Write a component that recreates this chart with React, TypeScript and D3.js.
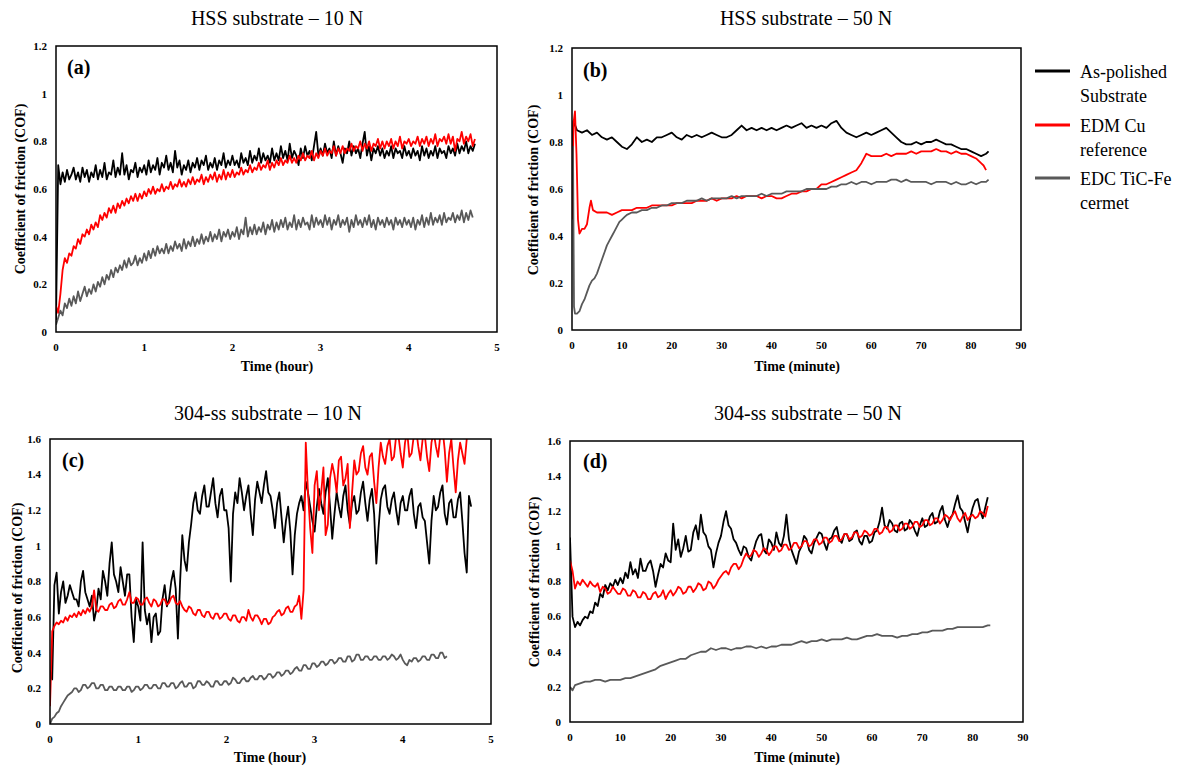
import React from 'react';
import * as d3 from 'd3';

const W = 1187;
const H = 766;
const FONT = '"Liberation Serif", "Times New Roman", "DejaVu Serif", serif';

const seriesNames = ['As-polished Substrate', 'EDM Cu reference', 'EDC TiC-Fe cermet'];
const seriesColors = ['#000000', '#ff0000', '#595959'];

const yTicksLow = [0, 0.2, 0.4, 0.6, 0.8, 1, 1.2];
const yTicksHigh = [0, 0.2, 0.4, 0.6, 0.8, 1, 1.2, 1.4, 1.6];
const xTicksHour = [0, 1, 2, 3, 4, 5];
const xTicksMinute = [0, 10, 20, 30, 40, 50, 60, 70, 80, 90];

// (a) HSS substrate - 10 N, one value every 0.025 h
const hss10Step = 0.025;
const hss10Polished = [
  0.05, 0.70, 0.62, 0.67, 0.63, 0.68, 0.64, 0.66, 0.69, 0.64,
  0.67, 0.63, 0.69, 0.65, 0.68, 0.63, 0.67, 0.65, 0.70, 0.64,
  0.68, 0.65, 0.71, 0.64, 0.67, 0.66, 0.72, 0.65, 0.69, 0.66,
  0.75, 0.66, 0.70, 0.64, 0.68, 0.67, 0.71, 0.65, 0.69, 0.67,
  0.70, 0.66, 0.72, 0.67, 0.70, 0.68, 0.73, 0.66, 0.71, 0.69,
  0.74, 0.68, 0.71, 0.67, 0.76, 0.69, 0.72, 0.66, 0.70, 0.68,
  0.72, 0.67, 0.71, 0.69, 0.73, 0.68, 0.72, 0.70, 0.74, 0.68,
  0.71, 0.69, 0.73, 0.68, 0.72, 0.70, 0.75, 0.69, 0.72, 0.70,
  0.74, 0.70, 0.72, 0.69, 0.75, 0.71, 0.73, 0.70, 0.76, 0.71,
  0.74, 0.72, 0.77, 0.71, 0.75, 0.72, 0.74, 0.71, 0.77, 0.72,
  0.75, 0.72, 0.78, 0.73, 0.76, 0.72, 0.79, 0.73, 0.76, 0.74,
  0.70, 0.77, 0.73, 0.78, 0.74, 0.76, 0.72, 0.78, 0.84, 0.74,
  0.77, 0.74, 0.79, 0.75, 0.77, 0.73, 0.80, 0.74, 0.78, 0.75,
  0.71, 0.77, 0.75, 0.80, 0.74, 0.78, 0.75, 0.77, 0.73, 0.79,
  0.84, 0.74, 0.78, 0.72, 0.77, 0.75, 0.78, 0.74, 0.77, 0.73,
  0.76, 0.74, 0.78, 0.73, 0.77, 0.75, 0.76, 0.73, 0.78, 0.74,
  0.76, 0.73, 0.77, 0.74, 0.76, 0.72, 0.78, 0.74, 0.77, 0.73,
  0.76, 0.74, 0.78, 0.73, 0.77, 0.75, 0.76, 0.73, 0.78, 0.75,
  0.77, 0.74, 0.79, 0.75, 0.78, 0.76, 0.80, 0.75, 0.78, 0.76,
  0.79,
];
const hss10EdmCu = [
  0.11, 0.08, 0.16, 0.26, 0.31, 0.29, 0.33, 0.32, 0.36, 0.35,
  0.39, 0.37, 0.41, 0.40, 0.43, 0.41, 0.45, 0.43, 0.46, 0.44,
  0.49, 0.47, 0.50, 0.48, 0.52, 0.50, 0.53, 0.50, 0.54, 0.52,
  0.55, 0.53, 0.56, 0.54, 0.57, 0.55, 0.58, 0.55, 0.58, 0.56,
  0.59, 0.57, 0.60, 0.58, 0.61, 0.58, 0.60, 0.59, 0.62, 0.59,
  0.61, 0.60, 0.63, 0.60, 0.62, 0.61, 0.64, 0.61, 0.63, 0.61,
  0.64, 0.62, 0.65, 0.62, 0.64, 0.63, 0.66, 0.62, 0.65, 0.63,
  0.66, 0.64, 0.67, 0.63, 0.66, 0.64, 0.68, 0.64, 0.67, 0.65,
  0.68, 0.65, 0.67, 0.66, 0.69, 0.66, 0.68, 0.67, 0.70, 0.67,
  0.69, 0.68, 0.71, 0.68, 0.70, 0.69, 0.72, 0.68, 0.71, 0.69,
  0.72, 0.70, 0.73, 0.70, 0.72, 0.71, 0.74, 0.71, 0.73, 0.71,
  0.74, 0.72, 0.75, 0.72, 0.74, 0.73, 0.76, 0.72, 0.75, 0.73,
  0.76, 0.74, 0.77, 0.74, 0.76, 0.75, 0.78, 0.74, 0.77, 0.75,
  0.78, 0.75, 0.77, 0.76, 0.79, 0.76, 0.78, 0.77, 0.80, 0.76,
  0.79, 0.77, 0.80, 0.76, 0.79, 0.78, 0.81, 0.77, 0.80, 0.77,
  0.80, 0.78, 0.81, 0.77, 0.80, 0.78, 0.82, 0.77, 0.80, 0.79,
  0.81, 0.78, 0.80, 0.79, 0.82, 0.78, 0.81, 0.79, 0.82, 0.78,
  0.81, 0.79, 0.83, 0.78, 0.81, 0.80, 0.82, 0.79, 0.83, 0.79,
  0.82, 0.76, 0.81, 0.80, 0.84, 0.79, 0.82, 0.80, 0.83, 0.78,
  0.81,
];
const hss10TicFe = [
  0.03, 0.06, 0.09, 0.07, 0.12, 0.10, 0.14, 0.11, 0.15, 0.12,
  0.17, 0.13, 0.16, 0.19, 0.15, 0.18, 0.16, 0.20, 0.17, 0.21,
  0.19, 0.23, 0.20, 0.24, 0.22, 0.26, 0.23, 0.27, 0.25, 0.28,
  0.26, 0.30, 0.27, 0.31, 0.28, 0.29, 0.32, 0.28, 0.31, 0.29,
  0.33, 0.30, 0.34, 0.31, 0.35, 0.32, 0.36, 0.33, 0.35, 0.33,
  0.37, 0.33, 0.36, 0.34, 0.38, 0.35, 0.37, 0.34, 0.39, 0.35,
  0.38, 0.36, 0.40, 0.36, 0.39, 0.37, 0.41, 0.37, 0.40, 0.38,
  0.42, 0.38, 0.41, 0.39, 0.43, 0.38, 0.42, 0.40, 0.43, 0.39,
  0.42, 0.40, 0.44, 0.39, 0.43, 0.41, 0.48, 0.40, 0.44, 0.41,
  0.45, 0.41, 0.44, 0.42, 0.46, 0.41, 0.45, 0.43, 0.47, 0.42,
  0.46, 0.43, 0.47, 0.44, 0.48, 0.43, 0.46, 0.44, 0.49, 0.43,
  0.47, 0.44, 0.48, 0.45, 0.46, 0.43, 0.49, 0.44, 0.48, 0.45,
  0.47, 0.44, 0.49, 0.45, 0.48, 0.43, 0.47, 0.45, 0.49, 0.44,
  0.47, 0.45, 0.48, 0.42, 0.47, 0.44, 0.49, 0.45, 0.47, 0.44,
  0.48, 0.45, 0.49, 0.44, 0.47, 0.43, 0.48, 0.45, 0.47, 0.44,
  0.48, 0.45, 0.47, 0.43, 0.48, 0.45, 0.47, 0.44, 0.48, 0.45,
  0.47, 0.44, 0.48, 0.43, 0.47, 0.45, 0.49, 0.44, 0.48, 0.45,
  0.50, 0.45, 0.48, 0.46, 0.49, 0.45, 0.50, 0.46, 0.48, 0.47,
  0.50, 0.46, 0.49, 0.47, 0.51, 0.46, 0.50, 0.47, 0.51, 0.48,
];

// (b) HSS substrate - 50 N, [minute, COF]
const hss50Polished = [
  [0, 0.74], [0.3, 0.89], [1, 0.85], [2, 0.84], [3, 0.85], [4, 0.83], [5, 0.84], [6, 0.82], [7, 0.81], [8, 0.82],
  [9, 0.8], [10, 0.78], [11, 0.77], [12, 0.79], [13, 0.82], [14, 0.8], [15, 0.81], [16, 0.8], [17, 0.82], [18, 0.82],
  [19, 0.83], [20, 0.84], [21, 0.82], [22, 0.81], [23, 0.83], [24, 0.82], [25, 0.83], [26, 0.82], [27, 0.83], [28, 0.84],
  [29, 0.83], [30, 0.82], [31, 0.82], [32, 0.83], [33, 0.85], [34, 0.87], [35, 0.85], [36, 0.86], [37, 0.85], [38, 0.86],
  [39, 0.85], [40, 0.86], [41, 0.85], [42, 0.86], [43, 0.87], [44, 0.86], [45, 0.87], [46, 0.88], [47, 0.86], [48, 0.87],
  [49, 0.86], [50, 0.87], [51, 0.86], [52, 0.88], [53, 0.89], [54, 0.86], [55, 0.84], [56, 0.83], [57, 0.82], [58, 0.83],
  [59, 0.84], [60, 0.83], [61, 0.84], [62, 0.85], [63, 0.86], [64, 0.84], [65, 0.82], [66, 0.8], [67, 0.79], [68, 0.79],
  [69, 0.8], [70, 0.79], [71, 0.8], [72, 0.8], [73, 0.81], [74, 0.8], [75, 0.79], [76, 0.79], [77, 0.78], [78, 0.77],
  [79, 0.77], [80, 0.76], [81, 0.75], [82, 0.74], [83, 0.75], [83.5, 0.76],
];
const hss50EdmCu = [
  [0, 0.47], [0.3, 0.88], [0.6, 0.93], [0.9, 0.75], [1.2, 0.47], [1.5, 0.41], [2, 0.43], [2.5, 0.43], [3, 0.45], [3.5, 0.52],
  [3.8, 0.55], [4.2, 0.51], [5, 0.5], [6, 0.5], [7, 0.5], [8, 0.49], [9, 0.5], [10, 0.51], [11, 0.51], [12, 0.51],
  [13, 0.52], [14, 0.52], [15, 0.52], [16, 0.53], [17, 0.53], [18, 0.53], [19, 0.53], [20, 0.53], [21, 0.54], [22, 0.54],
  [23, 0.54], [24, 0.54], [25, 0.55], [26, 0.55], [27, 0.55], [28, 0.56], [29, 0.55], [30, 0.56], [31, 0.56], [32, 0.56],
  [33, 0.57], [34, 0.56], [35, 0.57], [36, 0.57], [37, 0.57], [38, 0.56], [39, 0.57], [40, 0.57], [41, 0.56], [42, 0.56],
  [43, 0.57], [44, 0.58], [45, 0.58], [46, 0.59], [47, 0.59], [48, 0.6], [49, 0.6], [50, 0.62], [51, 0.62], [52, 0.63],
  [53, 0.64], [54, 0.65], [55, 0.66], [56, 0.67], [57, 0.68], [58, 0.71], [59, 0.75], [60, 0.74], [61, 0.74], [62, 0.74],
  [63, 0.75], [64, 0.74], [65, 0.75], [66, 0.75], [67, 0.75], [68, 0.76], [69, 0.75], [70, 0.76], [71, 0.76], [72, 0.76],
  [73, 0.77], [74, 0.76], [75, 0.76], [76, 0.75], [77, 0.76], [78, 0.75], [79, 0.75], [80, 0.74], [81, 0.73], [82, 0.71],
  [82.5, 0.7], [83, 0.68],
];
const hss50TicFe = [
  [0, 0.62], [0.2, 0.78], [0.4, 0.1], [0.6, 0.07], [1, 0.07], [1.5, 0.08], [2, 0.11], [2.5, 0.13], [3, 0.16], [3.5, 0.19],
  [4, 0.21], [4.5, 0.22], [5, 0.24], [5.5, 0.27], [6, 0.3], [6.5, 0.33], [7, 0.36], [7.5, 0.38], [8, 0.4], [8.5, 0.42],
  [9, 0.44], [9.5, 0.46], [10, 0.47], [10.5, 0.48], [11, 0.49], [12, 0.5], [13, 0.5], [14, 0.51], [15, 0.51], [16, 0.52],
  [17, 0.52], [18, 0.53], [19, 0.53], [20, 0.54], [21, 0.54], [22, 0.54], [23, 0.55], [24, 0.55], [25, 0.55], [26, 0.56],
  [27, 0.55], [28, 0.56], [29, 0.56], [30, 0.56], [31, 0.56], [32, 0.57], [33, 0.56], [34, 0.57], [35, 0.57], [36, 0.57],
  [37, 0.57], [38, 0.58], [39, 0.57], [40, 0.58], [41, 0.58], [42, 0.58], [43, 0.59], [44, 0.59], [45, 0.59], [46, 0.59],
  [47, 0.6], [48, 0.6], [49, 0.6], [50, 0.6], [51, 0.6], [52, 0.61], [53, 0.61], [54, 0.62], [55, 0.62], [56, 0.63],
  [57, 0.62], [58, 0.63], [59, 0.63], [60, 0.62], [61, 0.63], [62, 0.63], [63, 0.63], [64, 0.64], [65, 0.64], [66, 0.63],
  [67, 0.64], [68, 0.63], [69, 0.63], [70, 0.63], [71, 0.63], [72, 0.62], [73, 0.63], [74, 0.63], [75, 0.63], [76, 0.62],
  [77, 0.63], [78, 0.62], [79, 0.62], [80, 0.63], [81, 0.62], [82, 0.63], [83, 0.63], [83.5, 0.64],
];

// (c) 304-ss substrate - 10 N, one value every 0.025 h
const ss10Step = 0.025;
const ss10Polished = [
  0.30, 0.25, 0.78, 0.85, 0.62, 0.74, 0.80, 0.68, 0.72, 0.78,
  0.74, 0.70, 0.70, 0.66, 0.80, 0.86, 0.74, 0.70, 0.66, 0.72,
  0.58, 0.64, 0.76, 0.70, 0.86, 0.80, 0.72, 0.90, 1.02, 0.84,
  0.80, 0.74, 0.88, 0.80, 0.72, 0.84, 0.84, 0.60, 0.46, 0.70,
  0.66, 0.58, 1.02, 0.64, 0.56, 0.62, 0.46, 0.60, 0.62, 0.50,
  0.52, 0.70, 0.78, 0.66, 0.70, 0.80, 0.86, 0.76, 0.48, 0.80,
  1.06, 0.92, 0.86, 1.02, 1.12, 1.24, 1.30, 1.20, 1.18, 1.28,
  1.34, 1.22, 1.22, 1.30, 1.38, 1.24, 1.16, 1.28, 1.32, 1.20,
  1.20, 1.10, 0.80, 1.18, 1.30, 1.24, 1.38, 1.30, 1.20, 1.28,
  1.34, 1.18, 1.06, 1.26, 1.36, 1.30, 1.24, 1.34, 1.42, 1.30,
  1.28, 1.20, 1.10, 1.24, 1.30, 1.16, 1.02, 1.14, 1.22, 1.08,
  0.84, 1.06, 1.18, 1.24, 1.28, 1.20, 1.36, 1.30, 1.22, 1.14,
  1.08, 1.22, 1.32, 1.24, 1.18, 1.30, 1.38, 1.22, 1.04, 1.18,
  1.30, 1.22, 1.16, 1.28, 1.34, 1.20, 1.12, 1.24, 1.28, 1.18,
  1.20, 1.30, 1.36, 1.24, 1.14, 1.26, 1.32, 1.18, 0.90, 1.10,
  1.26, 1.32, 1.34, 1.22, 1.18, 1.26, 1.30, 1.20, 1.12, 1.24,
  1.28, 1.20, 1.20, 1.28, 1.32, 1.18, 1.10, 1.22, 1.24, 1.16,
  1.14, 1.02, 0.90, 1.14, 1.28, 1.20, 1.22, 1.30, 1.34, 1.18,
  1.12, 1.24, 1.26, 1.16, 1.16, 1.26, 1.30, 1.14, 0.96, 0.85,
  1.28, 1.22,
];
const ss10EdmCu = [
  0.10, 0.52, 0.55, 0.57, 0.56, 0.58, 0.57, 0.60, 0.58, 0.61,
  0.60, 0.62, 0.60, 0.63, 0.61, 0.64, 0.62, 0.65, 0.63, 0.66,
  0.75, 0.64, 0.63, 0.66, 0.66, 0.64, 0.64, 0.67, 0.68, 0.65,
  0.66, 0.69, 0.70, 0.67, 0.67, 0.70, 0.74, 0.68, 0.68, 0.71,
  0.70, 0.67, 0.67, 0.70, 0.71, 0.68, 0.66, 0.70, 0.69, 0.66,
  0.67, 0.70, 0.70, 0.67, 0.68, 0.71, 0.72, 0.68, 0.67, 0.69,
  0.66, 0.64, 0.63, 0.66, 0.65, 0.62, 0.61, 0.64, 0.64, 0.61,
  0.60, 0.63, 0.63, 0.60, 0.59, 0.62, 0.62, 0.59, 0.60, 0.62,
  0.62, 0.59, 0.58, 0.61, 0.61, 0.58, 0.57, 0.60, 0.60, 0.58,
  0.64, 0.60, 0.58, 0.61, 0.61, 0.59, 0.56, 0.59, 0.59, 0.56,
  0.57, 0.60, 0.61, 0.63, 0.64, 0.61, 0.62, 0.65, 0.66, 0.63,
  0.63, 0.66, 0.67, 0.72, 0.59, 0.75, 1.58, 1.30, 1.10, 0.96,
  1.34, 1.42, 1.20, 1.30, 1.44, 1.06, 1.12, 1.38, 1.46, 1.40,
  1.30, 1.48, 1.50, 1.34, 1.38, 1.46, 1.10, 1.30, 1.48, 1.40,
  1.42, 1.52, 1.56, 1.44, 1.40, 1.50, 1.52, 1.36, 1.24, 1.44,
  1.58, 1.50, 1.46, 1.56, 1.60, 1.48, 1.50, 1.62, 1.62, 1.52,
  1.44, 1.58, 1.64, 1.50, 1.52, 1.62, 1.66, 1.56, 1.48, 1.60,
  1.62, 1.50, 1.42, 1.58, 1.64, 1.56, 1.50, 1.62, 1.66, 1.54,
  1.36, 1.52, 1.60, 1.44, 1.30, 1.48, 1.58, 1.52, 1.46, 1.60,
  1.64, 1.62,
];
const ss10TicFe = [
  0.00, 0.03, 0.04, 0.06, 0.07, 0.10, 0.12, 0.14, 0.16, 0.17,
  0.18, 0.20, 0.20, 0.18, 0.19, 0.22, 0.22, 0.20, 0.21, 0.23,
  0.23, 0.20, 0.20, 0.22, 0.22, 0.19, 0.19, 0.21, 0.21, 0.19,
  0.19, 0.21, 0.21, 0.19, 0.19, 0.21, 0.21, 0.18, 0.19, 0.21,
  0.21, 0.19, 0.20, 0.22, 0.22, 0.20, 0.20, 0.22, 0.22, 0.20,
  0.20, 0.23, 0.23, 0.21, 0.21, 0.23, 0.23, 0.20, 0.21, 0.23,
  0.24, 0.21, 0.21, 0.23, 0.23, 0.20, 0.21, 0.24, 0.24, 0.22,
  0.22, 0.24, 0.23, 0.21, 0.21, 0.24, 0.24, 0.22, 0.22, 0.24,
  0.24, 0.22, 0.23, 0.26, 0.25, 0.23, 0.23, 0.25, 0.26, 0.24,
  0.24, 0.26, 0.27, 0.25, 0.25, 0.27, 0.27, 0.25, 0.26, 0.28,
  0.28, 0.26, 0.27, 0.29, 0.29, 0.27, 0.28, 0.30, 0.30, 0.28,
  0.29, 0.31, 0.32, 0.30, 0.30, 0.33, 0.33, 0.31, 0.31, 0.34,
  0.34, 0.32, 0.33, 0.35, 0.35, 0.33, 0.34, 0.36, 0.36, 0.34,
  0.35, 0.37, 0.37, 0.35, 0.35, 0.38, 0.38, 0.35, 0.36, 0.39,
  0.39, 0.36, 0.36, 0.38, 0.38, 0.36, 0.36, 0.38, 0.38, 0.36,
  0.36, 0.38, 0.38, 0.36, 0.37, 0.39, 0.38, 0.36, 0.37, 0.39,
  0.36, 0.34, 0.33, 0.36, 0.35, 0.37, 0.37, 0.35, 0.36, 0.38,
  0.38, 0.36, 0.36, 0.39, 0.39, 0.37, 0.37, 0.40, 0.40, 0.37,
  0.38,
];

// (d) 304-ss substrate - 50 N, one value every 0.5 min (gray as [minute, COF])
const ss50Step = 0.5;
const ss50Polished = [
  1.05, 0.60, 0.54, 0.57, 0.55, 0.58, 0.60, 0.59, 0.63, 0.62,
  0.68, 0.66, 0.73, 0.71, 0.78, 0.75, 0.79, 0.77, 0.81, 0.78,
  0.82, 0.79, 0.85, 0.82, 0.91, 0.84, 0.87, 0.82, 0.93, 0.86,
  0.86, 0.90, 0.92, 0.86, 0.77, 0.84, 0.90, 0.88, 0.96, 0.92,
  0.91, 1.13, 0.98, 1.04, 0.94, 0.99, 1.06, 0.97, 0.98, 1.08,
  1.12, 1.04, 1.18, 1.08, 1.06, 1.00, 0.98, 0.88, 0.96, 1.02,
  1.06, 1.14, 1.20, 1.12, 1.10, 1.04, 1.02, 0.98, 0.95, 1.00,
  0.99, 0.94, 0.92, 0.98, 1.03, 1.06, 1.07, 0.98, 0.96, 1.04,
  1.02, 0.98, 1.08, 1.02, 1.00, 1.06, 1.18, 1.04, 0.98, 0.94,
  0.90, 0.97, 1.00, 1.06, 1.04, 0.98, 0.96, 1.02, 1.05, 1.08,
  1.07, 1.02, 0.98, 1.04, 1.05, 1.09, 1.11, 1.04, 1.02, 1.07,
  1.07, 1.03, 1.04, 1.08, 1.09, 1.03, 1.01, 1.06, 1.06, 1.02,
  1.03, 1.08, 1.09, 1.14, 1.22, 1.12, 1.10, 1.15, 1.13, 1.09,
  1.08, 1.13, 1.14, 1.09, 1.10, 1.15, 1.13, 1.09, 1.06, 1.12,
  1.16, 1.11, 1.12, 1.17, 1.19, 1.13, 1.14, 1.20, 1.23, 1.15,
  1.11, 1.16, 1.18, 1.24, 1.29, 1.22, 1.20, 1.14, 1.08, 1.16,
  1.22, 1.26, 1.27, 1.20, 1.16, 1.22, 1.28,
];
const ss50EdmCu = [
  0.92, 0.86, 0.76, 0.80, 0.78, 0.81, 0.79, 0.77, 0.80, 0.78,
  0.77, 0.79, 0.74, 0.77, 0.76, 0.73, 0.74, 0.77, 0.75, 0.73,
  0.73, 0.76, 0.75, 0.72, 0.72, 0.75, 0.74, 0.71, 0.71, 0.74,
  0.73, 0.70, 0.70, 0.73, 0.74, 0.71, 0.72, 0.75, 0.70, 0.73,
  0.75, 0.72, 0.74, 0.77, 0.76, 0.73, 0.74, 0.77, 0.77, 0.74,
  0.76, 0.79, 0.78, 0.75, 0.76, 0.80, 0.79, 0.76, 0.78, 0.81,
  0.83, 0.85, 0.86, 0.84, 0.88, 0.90, 0.90, 0.87, 0.89, 0.93,
  0.96, 0.94, 0.95, 0.98, 0.97, 0.94, 0.96, 0.99, 0.98, 0.95,
  0.97, 1.00, 1.00, 0.97, 0.98, 1.01, 1.01, 0.98, 0.99, 1.02,
  1.02, 0.99, 1.00, 1.03, 1.03, 1.00, 1.01, 1.04, 1.04, 1.01,
  1.02, 1.05, 1.05, 1.02, 1.03, 1.06, 1.06, 1.03, 1.04, 1.07,
  1.07, 1.04, 1.05, 1.08, 1.08, 1.05, 1.06, 1.09, 1.08, 1.06,
  1.07, 1.10, 1.10, 1.07, 1.08, 1.11, 1.11, 1.08, 1.09, 1.12,
  1.12, 1.09, 1.10, 1.13, 1.13, 1.10, 1.11, 1.14, 1.14, 1.11,
  1.12, 1.15, 1.15, 1.12, 1.13, 1.16, 1.16, 1.13, 1.15, 1.18,
  1.17, 1.15, 1.18, 1.20, 1.16, 1.14, 1.17, 1.19, 1.15, 1.17,
  1.18, 1.16, 1.17, 1.20, 1.19, 1.17, 1.23,
];
const ss50TicFe = [
  [0, 0.2], [0.5, 0.18], [1, 0.21], [2, 0.22], [3, 0.23], [4, 0.23], [5, 0.24], [6, 0.24], [7, 0.23], [8, 0.24],
  [9, 0.24], [10, 0.24], [11, 0.25], [12, 0.25], [13, 0.26], [14, 0.27], [15, 0.28], [16, 0.29], [17, 0.3], [18, 0.32],
  [19, 0.33], [20, 0.34], [21, 0.35], [22, 0.36], [23, 0.36], [24, 0.38], [25, 0.39], [26, 0.4], [27, 0.4], [28, 0.42],
  [29, 0.41], [30, 0.42], [31, 0.42], [32, 0.41], [33, 0.42], [34, 0.42], [35, 0.43], [36, 0.43], [37, 0.42], [38, 0.43],
  [39, 0.42], [40, 0.43], [41, 0.43], [42, 0.44], [43, 0.44], [44, 0.44], [45, 0.45], [46, 0.46], [47, 0.45], [48, 0.46],
  [49, 0.46], [50, 0.47], [51, 0.46], [52, 0.47], [53, 0.47], [54, 0.47], [55, 0.48], [56, 0.47], [57, 0.47], [58, 0.48],
  [59, 0.49], [60, 0.49], [61, 0.5], [62, 0.49], [63, 0.49], [64, 0.49], [65, 0.48], [66, 0.49], [67, 0.49], [68, 0.5],
  [69, 0.5], [70, 0.51], [71, 0.51], [72, 0.52], [73, 0.52], [74, 0.52], [75, 0.53], [76, 0.53], [77, 0.54], [78, 0.54],
  [79, 0.54], [80, 0.54], [81, 0.54], [82, 0.54], [83, 0.55], [83.5, 0.55],
];

type Pt = [number, number];
const sampled = (values: number[], step: number): Pt[] => values.map((v, i) => [i * step, v]);

const panels = [
  {
    id: 'a', title: 'HSS substrate \u2013 10 N', xLabel: 'Time (hour)',
    box: { x0: 56, y0: 46, x1: 497, y1: 332 }, titleAt: [277, 25], xLabelAt: [277, 371], yLabelAt: [20, 189], letterAt: [67, 74],
    xDomain: [0, 5], yDomain: [0, 1.2], xTicks: xTicksHour, yTicks: yTicksLow,
    series: [sampled(hss10Polished, hss10Step), sampled(hss10EdmCu, hss10Step), sampled(hss10TicFe, hss10Step)],
  },
  {
    id: 'b', title: 'HSS substrate \u2013 50 N', xLabel: 'Time (minute)',
    box: { x0: 572, y0: 48, x1: 1021, y1: 330 }, titleAt: [806, 25], xLabelAt: [797, 371], yLabelAt: [533, 190], letterAt: [583, 77],
    xDomain: [0, 90], yDomain: [0, 1.2], xTicks: xTicksMinute, yTicks: yTicksLow,
    series: [hss50Polished as Pt[], hss50EdmCu as Pt[], hss50TicFe as Pt[]],
  },
  {
    id: 'c', title: '304-ss substrate \u2013 10 N', xLabel: 'Time (hour)',
    box: { x0: 50, y0: 439, x1: 491, y1: 724 }, titleAt: [268, 420], xLabelAt: [270, 762], yLabelAt: [17, 588], letterAt: [62, 467],
    xDomain: [0, 5], yDomain: [0, 1.6], xTicks: xTicksHour, yTicks: yTicksHigh,
    series: [sampled(ss10Polished, ss10Step), sampled(ss10EdmCu, ss10Step), sampled(ss10TicFe, ss10Step)],
  },
  {
    id: 'd', title: '304-ss substrate \u2013 50 N', xLabel: 'Time (minute)',
    box: { x0: 570, y0: 441, x1: 1023, y1: 722 }, titleAt: [808, 420], xLabelAt: [797, 762], yLabelAt: [534, 582], letterAt: [583, 468],
    xDomain: [0, 90], yDomain: [0, 1.6], xTicks: xTicksMinute, yTicks: yTicksHigh,
    series: [sampled(ss50Polished, ss50Step), sampled(ss50EdmCu, ss50Step), ss50TicFe as Pt[]],
  },
];

function Panel({ p }: { p: (typeof panels)[number] }) {
  const { box } = p;
  const x = d3.scaleLinear().domain(p.xDomain).range([box.x0, box.x1]);
  const y = d3.scaleLinear().domain(p.yDomain).range([box.y1, box.y0]);
  const line = d3.line<Pt>().x(d => x(d[0])).y(d => y(d[1]));
  const clipId = `clip-${p.id}`;

  return (
    <g>
      <defs>
        <clipPath id={clipId}>
          <rect x={box.x0} y={box.y0} width={box.x1 - box.x0} height={box.y1 - box.y0} />
        </clipPath>
      </defs>
      <text x={p.titleAt[0]} y={p.titleAt[1]} textAnchor="middle" fontSize={20}>{p.title}</text>

      {/* tick labels */}
      {p.yTicks.map(t => (
        <text key={`y${t}`} x={box.x0 - 9} y={y(t)} dy="0.35em" textAnchor="end" fontSize={11} fontWeight="bold">
          {String(+t.toFixed(1))}
        </text>
      ))}
      {p.xTicks.map(t => (
        <text key={`x${t}`} x={x(t)} y={box.y1 + 19} textAnchor="middle" fontSize={11} fontWeight="bold">
          {t}
        </text>
      ))}

      <g clipPath={`url(#${clipId})`}>
        {p.series.map((s, i) => (
          <path key={i} d={line(s) || ''} fill="none" stroke={seriesColors[i]} strokeWidth={1.8} strokeLinejoin="round" />
        ))}
      </g>

      <rect x={box.x0} y={box.y0} width={box.x1 - box.x0} height={box.y1 - box.y0} fill="none" stroke="#000" strokeWidth={1.5} />

      <text x={p.letterAt[0]} y={p.letterAt[1]} fontSize={20} fontWeight="bold">({p.id})</text>
      <text x={p.xLabelAt[0]} y={p.xLabelAt[1]} textAnchor="middle" fontSize={14} fontWeight="bold">{p.xLabel}</text>
      <text
        transform={`translate(${p.yLabelAt[0]},${p.yLabelAt[1]}) rotate(-90)`}
        dy="0.35em" textAnchor="middle" fontSize={14} fontWeight="bold"
      >
        Coefficient of friction (COF)
      </text>
    </g>
  );
}

const legendLines = [
  ['As-polished', 'Substrate'],
  ['EDM Cu', 'reference'],
  ['EDC TiC-Fe', 'cermet'],
];
const legendY = [71, 125, 178];

export default function App() {
  return (
    <svg
      width={W}
      height={H}
      style={{ position: 'absolute', left: 0, top: 0, background: '#fff' }}
      fontFamily={FONT}
    >
      {panels.map(p => <Panel key={p.id} p={p} />)}
      <g>
        {seriesNames.map((name, i) => (
          <g key={name}>
            <line x1={1035} x2={1070} y1={legendY[i]} y2={legendY[i]} stroke={seriesColors[i]} strokeWidth={3} />
            <text x={1080} y={legendY[i] + 7} fontSize={18}>{legendLines[i][0]}</text>
            <text x={1080} y={legendY[i] + 31} fontSize={18}>{legendLines[i][1]}</text>
          </g>
        ))}
      </g>
    </svg>
  );
}
